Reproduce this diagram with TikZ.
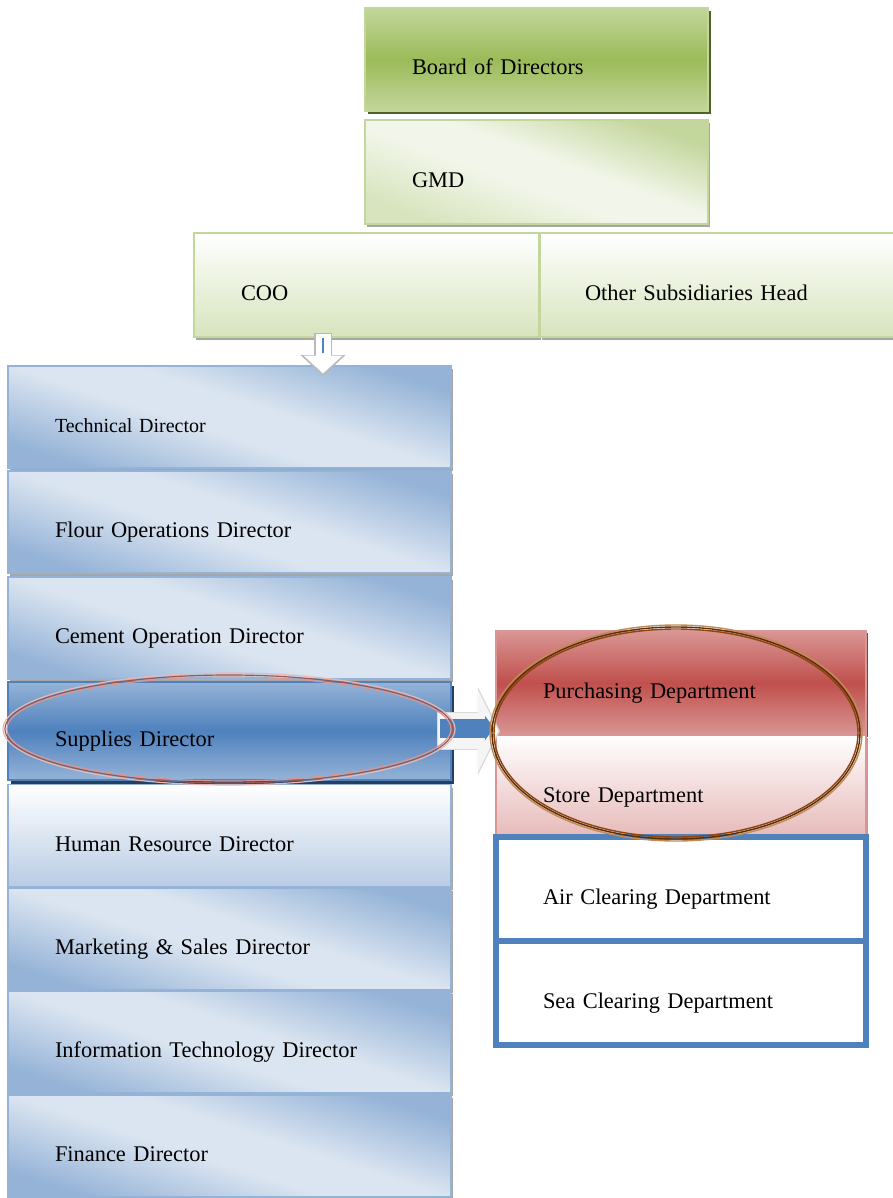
\documentclass[tikz,border=0pt]{standalone}
\usepackage{fontspec}
\setmainfont{Liberation Serif}
\usetikzlibrary{shadows,arrows.meta}
\definecolor{olvA}{HTML}{C3D69B}
\definecolor{olvB}{HTML}{9BBB59}
\definecolor{olvC}{HTML}{F2F6EA}
\definecolor{olvD}{HTML}{D7E4BD}
\definecolor{olvS}{HTML}{4F6228}
\definecolor{bluA}{HTML}{95B3D7}
\definecolor{bluB}{HTML}{DBE5F1}
\definecolor{bluC}{HTML}{4F81BD}
\definecolor{bluE}{HTML}{B8CCE4}
\definecolor{bluS}{HTML}{243F60}
\definecolor{redA}{HTML}{D99694}
\definecolor{redB}{HTML}{C0504D}
\definecolor{redC}{HTML}{E6B9B8}
\definecolor{redS}{HTML}{943634}
\definecolor{rimA}{HTML}{8E5B5B}
\definecolor{brnA}{HTML}{5C2E00}
\definecolor{brnB}{HTML}{8A4510}
\definecolor{brnC}{HTML}{C08A5A}
\pgfdeclareverticalshading{bodband}{100bp}{color(0bp)=(olvA); color(25bp)=(olvA); color(50bp)=(olvB); color(75bp)=(olvA); color(100bp)=(olvA)}
\pgfdeclareverticalshading{gmdband}{100bp}{color(0bp)=(olvD); color(25bp)=(olvD); color(45bp)=(olvC); color(55bp)=(olvC); color(75bp)=(olvA); color(100bp)=(olvA)}
\pgfdeclareverticalshading{dirband}{100bp}{color(0bp)=(bluA); color(25bp)=(bluA); color(45bp)=(bluB); color(55bp)=(bluB); color(75bp)=(bluA); color(100bp)=(bluA)}
\pgfdeclareverticalshading{supband}{100bp}{color(0bp)=(bluA); color(25bp)=(bluA); color(50bp)=(bluC); color(75bp)=(bluA); color(100bp)=(bluA)}
\pgfdeclareverticalshading{purband}{100bp}{color(0bp)=(redA); color(25bp)=(redA); color(50bp)=(redB); color(75bp)=(redA); color(100bp)=(redA)}
\tikzset{
  lbl/.style={font=\fontsize{11.2}{13.4}\selectfont, align=left, inner ysep=0pt, inner xsep=23.5pt, text height=18pt, text depth=2.5pt},
  greyshadow/.style={drop shadow={shadow xshift=1pt,shadow yshift=-1.5pt,fill=gray!70,opacity=1}},
  bodbox/.style={lbl, draw=olvA, line width=0.8pt, minimum height=51.5pt, text width=124.5pt, shading=bodband, drop shadow={shadow xshift=1.5pt,shadow yshift=-1.5pt,fill=olvS,opacity=1}},
  gmdbox/.style={lbl, draw=olvA, line width=0.8pt, minimum height=52pt, text width=124.5pt, shading=gmdband, shading angle=-20, greyshadow},
  coobox/.style={lbl, draw=olvA, line width=0.8pt, minimum height=52pt, top color=white, bottom color=olvD, greyshadow},
  dirbox/.style={lbl, draw=bluA, line width=0.8pt, minimum height=51pt, text width=174.5pt, shading=dirband, shading angle=-18, greyshadow},
  supbox/.style={lbl, draw=bluC, line width=0.8pt, minimum height=49pt, text width=174.5pt, shading=supband, drop shadow={shadow xshift=1.5pt,shadow yshift=-2pt,fill=bluS,opacity=1}},
  hrbox/.style={lbl, draw=bluA, line width=0.8pt, minimum height=51pt, text width=174.5pt, top color=white, bottom color=bluE, greyshadow},
  purbox/.style={lbl, draw=redA, line width=0.8pt, minimum height=52pt, text width=138pt, shading=purband, drop shadow={shadow xshift=1pt,shadow yshift=-1pt,fill=redS,opacity=1}},
  storebox/.style={lbl, draw=redA, line width=0.8pt, minimum height=51.5pt, text width=138pt, top color=white, bottom color=redC, greyshadow},
  clrbox/.style={lbl, draw=bluC, line width=3pt, fill=white, minimum height=52pt, text width=138pt},
}
\begin{document}
\begin{tikzpicture}[x=0.5pt,y=-0.5pt]
\useasboundingbox (0,0) rectangle (893,1198);
\node[bodbox] (bod) at (536.5,59.5) {Board of Directors};
\node[gmdbox] (gmd) at (536.5,172) {GMD};
\node[coobox,text width=125.5pt] (coo) at (366.5,285) {COO};
\node[coobox,text width=135pt,inner xsep=22.5pt] (osh) at (720,285) {Other Subsidiaries Head};
\node[dirbox,font=\fontsize{10}{12}\selectfont] (tech) at (229.5,417) {Technical Director};
\node[dirbox] (flour) at (229.5,522) {Flour Operations Director};
\node[dirbox] (cement) at (229.5,628) {Cement Operation Director};
\node[supbox] (supp) at (229.5,731) {Supplies Director};
\node[hrbox] (hr) at (229.5,835.5) {Human Resource Director};
\node[dirbox] (mkt) at (229.5,939) {Marketing \& Sales Director};
\node[dirbox] (it) at (229.5,1042) {Information Technology Director};
\node[dirbox] (fin) at (229.5,1146) {Finance Director};
\node[purbox] (purch) at (681,683) {Purchasing Department};
\node[storebox] (store) at (681,786.5) {Store Department};
\node[clrbox] (air) at (681,889) {Air Clearing Department};
\node[clrbox] (sea) at (681,992.5) {Sea Clearing Department};
\coordinate (dn1) at (323,333);
\coordinate (dn2) at (323,376);
\coordinate (dn3) at (323,334);
\coordinate (dn4) at (323,373.5);
\coordinate (dn5) at (323,338);
\coordinate (dn6) at (323,353);
\draw[line width=9pt, gray!55, -{Triangle[width=22pt,length=10.5pt]}] (dn1) -- (dn2);
\draw[line width=7.5pt, white, -{Triangle[width=19pt,length=9pt]}] (dn3) -- (dn4);
\draw[line width=0.6pt, bluC] (dn5) -- (dn6);
\coordinate (rt1) at (437,731);
\coordinate (rt2) at (500,731);
\coordinate (rt3) at (438,731);
\coordinate (rt4) at (498.5,731);
\coordinate (rt5) at (440,728);
\coordinate (rt6) at (494,728);
\draw[line width=19pt, gray!30, -{Triangle[width=43.5pt,length=11pt]}] (rt1) -- (rt2);
\draw[line width=18pt, gray!8, -{Triangle[width=41.5pt,length=10.5pt]}] (rt3) -- (rt4);
\draw[line width=9.5pt, bluC, -{Triangle[width=12pt,length=4.5pt]}] (rt5) -- (rt6);
\draw[redC, line width=0.6pt] (229,729) ellipse [x radius=226, y radius=56];
\draw[rimA, line width=0.6pt] (229,729) ellipse [x radius=224, y radius=54];
\draw[redA, line width=0.6pt] (229,729) ellipse [x radius=222, y radius=52];
\draw[brnC, line width=0.7pt] (676,733) ellipse [x radius=186, y radius=108];
\draw[brnA, line width=0.7pt] (676,733) ellipse [x radius=184, y radius=106];
\draw[brnB, line width=0.7pt] (676,733) ellipse [x radius=182, y radius=104];
\end{tikzpicture}
\end{document}
